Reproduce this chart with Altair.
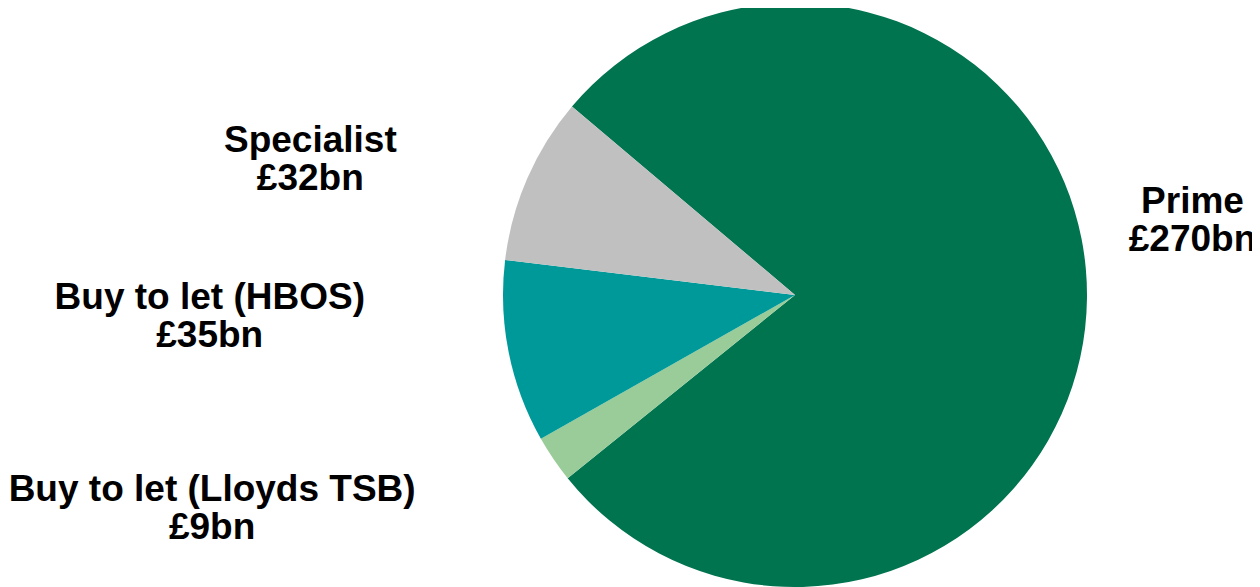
import math
import altair as alt
import pandas as pd

categories = ["Prime", "Buy to let (Lloyds TSB)", "Buy to let (HBOS)", "Specialist"]
values = [270, 9, 35, 32]
value_labels = ["£270bn", "£9bn", "£35bn", "£32bn"]
colors = ["#00734F", "#99CC99", "#009999", "#C0C0C0"]

df = pd.DataFrame({
    "category": categories,
    "value": values,
    "idx": list(range(len(categories))),
    "label": [[c, v] for c, v in zip(categories, value_labels)],
})

total = sum(values)
start = math.radians(310.2)
theta_scale = alt.Scale(domain=[0, total], range=[start, start + 2 * math.pi])
CX, CY = 787, 287

base = alt.Chart(df)

pie = base.mark_arc(radius=292, stroke=None).encode(
    theta=alt.Theta("value:Q", stack=True, scale=theta_scale),
    order=alt.Order("idx:Q"),
    color=alt.Color("category:N", scale=alt.Scale(domain=categories, range=colors), legend=None),
    x=alt.value(CX),
    y=alt.value(CY),
)

offsets = {
    "Prime": (-2.5, -86.5),
    "Buy to let (Lloyds TSB)": (-252, -18.3),
    "Buy to let (HBOS)": (-193, -64),
    "Specialist": (-118, 17),
}

layers = [pie]
for cat in categories:
    dx, dy = offsets[cat]
    txt = base.transform_window(
        cum="sum(value)", sort=[alt.SortField("idx")]
    ).transform_calculate(
        mid="datum.cum - datum.value / 2"
    ).transform_filter(
        alt.datum.category == cat
    ).mark_text(
        radius=400, dx=dx, dy=dy, align="center", baseline="alphabetic",
        font="Liberation Sans", fontWeight="bold", fontSize=37, lineHeight=38,
        color="#000000",
    ).encode(
        theta=alt.Theta("mid:Q", stack=None, scale=theta_scale),
        text=alt.Text("label"),
        x=alt.value(CX),
        y=alt.value(CY),
    )
    layers.append(txt)

chart = alt.layer(*layers).properties(
    width=1244, height=579, padding=0, autosize=alt.AutoSizeParams(type="none")
).configure_view(stroke=None)

chart.save("out.html", embed_options={"renderer": "svg", "actions": False})
